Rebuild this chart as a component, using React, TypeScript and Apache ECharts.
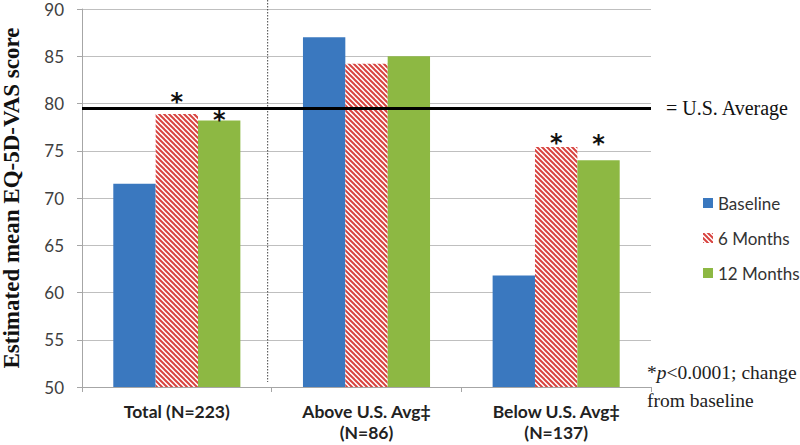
import React, { useEffect, useRef } from "react";
import * as echarts from "echarts";

const categories = ["Total (N=223)", "Above U.S. Avg‡\n(N=86)", "Below U.S. Avg‡\n(N=137)"];
const seriesNames = ["Baseline", "6 Months", "12 Months"];
const baseline = [71.5, 87.0, 61.8];
const sixMonths = [78.9, 84.2, 75.4];
const twelveMonths = [78.2, 85.0, 74.0];
const sig6 = [true, false, true];
const sig12 = [true, false, true];
const star6Offset = [0, 0, 8];
const star12Offset = [11, 0, -4];
const usAverage = 79.5;
const yMin = 50;
const yMax = 90;
const yStep = 5;

const SANS = "Lato, 'Open Sans', sans-serif";
const SERIF = "'Liberation Serif', 'DejaVu Serif', serif";

function makeHatch(): HTMLCanvasElement {
  const c = document.createElement("canvas");
  const s = 5;
  c.width = s;
  c.height = s;
  const ctx = c.getContext("2d")!;
  ctx.fillStyle = "#ffffff";
  ctx.fillRect(0, 0, s, s);
  ctx.strokeStyle = "#d8433f";
  ctx.lineWidth = 2;
  for (let k = -1; k <= 1; k++) {
    ctx.beginPath();
    ctx.moveTo(k * s - 1, -1);
    ctx.lineTo(k * s + s + 1, s + 1);
    ctx.stroke();
  }
  return c;
}

export default function App() {
  const ref = useRef<HTMLDivElement>(null);
  useEffect(() => {
    if (!ref.current) return;
    const chart = echarts.init(ref.current, undefined, { renderer: "svg" });
    const hatch = { image: makeHatch(), repeat: "repeat" } as any;
    const starLabel = (on: boolean, dy: number) =>
      on
        ? {
            show: true,
            position: "top",
            distance: 0,
            offset: [0, dy],
            formatter: "*",
            fontSize: 24,
            fontWeight: "bold",
            color: "#111",
            fontFamily: "'DejaVu Sans', sans-serif",
          }
        : { show: false };
    chart.setOption({
      animation: false,
      backgroundColor: "#ffffff",
      grid: { left: 82, right: 149, top: 9, bottom: 58, outerBoundsMode: "none", containLabel: false },
      legend: {
        orient: "vertical",
        left: 698,
        top: 188,
        itemWidth: 10,
        itemHeight: 10,
        itemGap: 15,
        icon: "rect",
        data: seriesNames,
        textStyle: {
          fontFamily: SANS,
          fontSize: 17,
          color: "#333",
          lineHeight: 20,
        },
      },
      xAxis: {
        type: "category",
        data: categories,
        axisLine: { lineStyle: { color: "#a6a6a6", width: 1 } },
        axisTick: { show: true, length: 5, lineStyle: { color: "#a6a6a6" } },
        axisLabel: {
          fontFamily: SANS,
          fontWeight: "bold",
          fontSize: 17.5,
          color: "#222",
          lineHeight: 21,
          margin: 14,
        },
      },
      yAxis: {
        type: "value",
        min: yMin,
        max: yMax,
        interval: yStep,
        name: "Estimated mean EQ-5D-VAS score",
        nameLocation: "middle",
        nameGap: 59,
        nameTextStyle: { fontFamily: SERIF, fontWeight: "bold", fontSize: 23, color: "#111" },
        axisLine: { show: true, lineStyle: { color: "#a6a6a6" } },
        axisTick: { show: true, length: 5, lineStyle: { color: "#a6a6a6" } },
        axisLabel: { fontFamily: SANS, fontSize: 17, color: "#404040", margin: 18 },
        splitLine: { lineStyle: { color: "#bfbfbf", width: 1 } },
      },
      series: [
        {
          name: seriesNames[0],
          type: "bar",
          data: baseline,
          barGap: "0%",
          barCategoryGap: "33%",
          itemStyle: { color: "#3a78bf" },
          markLine: {
            silent: true,
            symbol: "none",
            data: [{ yAxis: usAverage }],
            lineStyle: { color: "#000", width: 3, type: "solid" },
            label: {
              show: true,
              position: "end",
              distance: 15,
              formatter: "= U.S. Average",
              fontFamily: SERIF,
              fontSize: 20,
              color: "#111",
            },
          },
        },
        {
          name: seriesNames[1],
          type: "bar",
          barGap: "0%",
          barCategoryGap: "33%",
          itemStyle: { color: hatch },
          data: sixMonths.map((v, i) => ({ value: v, label: starLabel(sig6[i], star6Offset[i]) })),
        },
        {
          name: seriesNames[2],
          type: "bar",
          barGap: "0%",
          barCategoryGap: "33%",
          itemStyle: { color: "#8db843" },
          data: twelveMonths.map((v, i) => ({ value: v, label: starLabel(sig12[i], star12Offset[i]) })),
        },
      ],
    });
    const x0 = chart.convertToPixel({ xAxisIndex: 0 }, 0) as number;
    const x1 = chart.convertToPixel({ xAxisIndex: 0 }, 1) as number;
    const divX = (x0 + x1) / 2 - 4;
    const yBottom = chart.convertToPixel({ yAxisIndex: 0 }, yMin) as number;
    chart.setOption({
      graphic: [
        {
          type: "line",
          shape: { x1: divX, y1: 0, x2: divX, y2: yBottom - 5 },
          style: { stroke: "#444", lineWidth: 1, lineDash: [1.5, 1.5] },
          silent: true,
        },
        {
          type: "text",
          left: 647,
          top: 358,
          style: {
            text: "*{p|p}<0.0001; change\nfrom baseline",
            fontFamily: SERIF,
            fontSize: 19.5,
            lineHeight: 28,
            fill: "#222",
            rich: {
              p: { fontFamily: SERIF, fontStyle: "italic", fontSize: 19.5, fill: "#222", lineHeight: 28 },
            },
          },
        },
      ],
    });
    return () => chart.dispose();
  }, []);
  return <div ref={ref} style={{ position: "fixed", left: 0, top: 0, width: 800, height: 445 }} />;
}
